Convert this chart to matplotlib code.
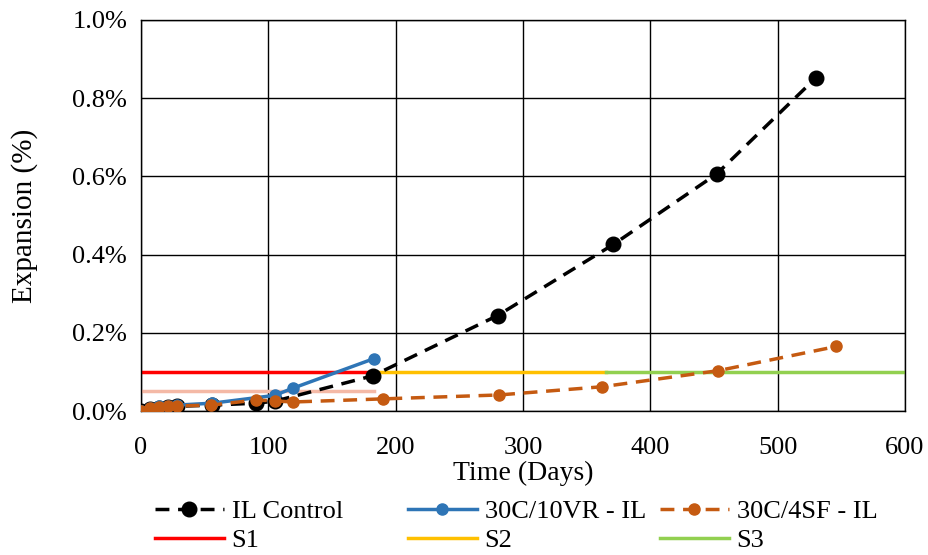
import matplotlib
matplotlib.use("Agg")
import matplotlib.pyplot as plt
from matplotlib.ticker import FuncFormatter

plt.rcParams['font.family'] = ['Liberation Serif', 'DejaVu Serif']

il_x = [0, 7, 14, 21, 28, 56, 90, 105, 182, 280, 371, 452, 530]
il_y = [0.0, 0.005, 0.008, 0.010, 0.012, 0.015, 0.020, 0.025, 0.090, 0.244, 0.426, 0.606, 0.852]

vr_x = [0, 7, 14, 21, 28, 56, 105, 119, 183]
vr_y = [0.0, 0.008, 0.012, 0.014, 0.015, 0.020, 0.040, 0.058, 0.134]

sf_x = [0, 7, 14, 21, 28, 55, 90, 105, 119, 190, 281, 362, 453, 546]
sf_y = [0.0, 0.007, 0.010, 0.012, 0.013, 0.015, 0.028, 0.026, 0.023, 0.031, 0.041, 0.062, 0.103, 0.165]

s1_x = [0, 183]; s1_y = [0.1, 0.1]
s2_x = [183, 365]; s2_y = [0.1, 0.1]
s3_x = [365, 600]; s3_y = [0.1, 0.1]
pink_x = [0, 183]; pink_y = [0.05, 0.05]

W, H = 929, 555
fig = plt.figure(figsize=(W/100, H/100), dpi=100)
ax = fig.add_axes([141/W, 1 - 411/H, (905-141)/W, (411-20)/H])

ax.plot(pink_x, pink_y, color='#F4B9A6', lw=2.5, zorder=2)
hs1, = ax.plot(s1_x, s1_y, color='#FF0000', lw=2.5, label='S1', zorder=2)
hs2, = ax.plot(s2_x, s2_y, color='#FFC000', lw=2.5, label='S2', zorder=2)
hs3, = ax.plot(s3_x, s3_y, color='#92D050', lw=2.5, label='S3', zorder=2)
l1, = ax.plot(il_x, il_y, color='black', ls=(0, (4, 2.5)), lw=2.5, marker='o', ms=10.5, label='IL Control', zorder=3)
l2, = ax.plot(vr_x, vr_y, color='#2E75B6', lw=2.5, marker='o', ms=8, label='30C/10VR - IL', zorder=4)
l3, = ax.plot(sf_x, sf_y, color='#C55A11', ls=(0, (4, 2.5)), lw=2.5, marker='o', ms=8, label='30C/4SF - IL', zorder=5)

ax.set_xlim(0, 600)
ax.set_ylim(0, 1.0)
ax.set_xticks(range(0, 601, 100))
ax.set_yticks([0, 0.2, 0.4, 0.6, 0.8, 1.0])
ax.yaxis.set_major_formatter(FuncFormatter(lambda v, p: f"{v:.1f}%"))
ax.grid(True, color='black', lw=1)
ax.set_axisbelow(True)
for s in ax.spines.values():
    s.set_color('black')
    s.set_linewidth(1)
ax.tick_params(axis='y', length=0, labelsize=19, pad=10)
ax.tick_params(axis='x', length=0, labelsize=19, pad=19)
ax.set_xlabel('Time (Days)', fontsize=20, labelpad=1)
ax.set_ylabel('Expansion (%)', fontsize=21, labelpad=25)

cols = [([l1, hs1], ['IL Control', 'S1'], 155),
        ([l2, hs2], ['30C/10VR - IL', 'S2'], 408),
        ([l3, hs3], ['30C/4SF - IL', 'S3'], 660)]
for hnd, lab, x0 in cols:
    leg = fig.legend(hnd, lab, loc='upper left', bbox_to_anchor=(x0/W, 1 - 500/H),
                     ncol=1, frameon=False, fontsize=19, handlelength=2.6,
                     handletextpad=0.3, labelspacing=0.2, borderaxespad=0, borderpad=0)

fig.savefig('out.png', dpi=100)
